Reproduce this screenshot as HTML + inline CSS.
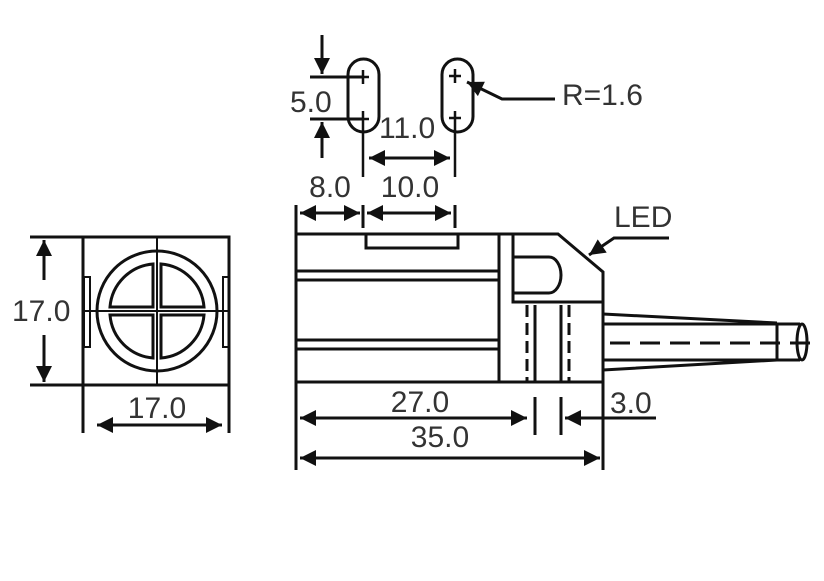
<!DOCTYPE html>
<html><head><style>body{margin:0;background:#fff}svg{display:block}text{font-family:"Liberation Sans",sans-serif;fill:#333;font-size:30px}</style></head>
<body>
<svg width="824" height="581" viewBox="0 0 824 581" xmlns="http://www.w3.org/2000/svg">
<defs>
<marker id="b" viewBox="0 0 10 10" refX="10" refY="5" markerWidth="18" markerHeight="16" orient="auto-start-reverse" markerUnits="userSpaceOnUse"><path d="M0,0L10,5L0,10z" fill="#111"/></marker></defs>
<g stroke="#111" stroke-width="3" fill="none">
<rect x="83" y="237" width="146" height="148"/>
<line x1="30" y1="237" x2="229" y2="237"/><line x1="30" y1="385" x2="229" y2="385"/>
<line x1="83" y1="385" x2="83" y2="433"/><line x1="229" y1="385" x2="229" y2="433"/>
<circle cx="157" cy="311" r="60"/>
<path d="M153,264 A47,47 0 0 0 110,307 L153,307Z M161,264 A47,47 0 0 1 204,307 L161,307Z M153,358 A47,47 0 0 1 110,315 L153,315Z M161,358 A47,47 0 0 0 204,315 L161,315Z"/>
<line x1="157" y1="237" x2="157" y2="385" stroke-width="2"/><line x1="83" y1="311" x2="229" y2="311" stroke-width="2"/>
<rect x="84" y="277" width="6" height="70" stroke-width="2"/><rect x="223" y="277" width="6" height="70" stroke-width="2"/>
<line x1="44" y1="240" x2="44" y2="280" marker-start="url(#b)"/><line x1="44" y1="335" x2="44" y2="382" marker-end="url(#b)"/>
<line x1="97" y1="425" x2="222" y2="425" marker-start="url(#b)" marker-end="url(#b)"/>
<rect x="348" y="59" width="31" height="73" rx="15.5"/><rect x="442" y="59" width="31" height="73" rx="15.5"/>
<path d="M363,70v14M357,77h12M363,111v66M357,119h12M455,69v14M449,76h12M455,111v66M449,118h12" stroke-width="2.5"/>
<line x1="310" y1="77" x2="363" y2="77"/><line x1="310" y1="119" x2="363" y2="119"/>
<line x1="322" y1="35" x2="322" y2="74" marker-end="url(#b)"/><line x1="322" y1="158" x2="322" y2="122" marker-end="url(#b)"/>
<line x1="369" y1="158" x2="450" y2="158" marker-start="url(#b)" marker-end="url(#b)"/>
<polyline points="555,99 502,99 467,82" marker-end="url(#b)"/>
<path d="M296,205V470M363,205v23M455,205v23M603,382V470"/>
<line x1="300" y1="213" x2="360" y2="213" marker-start="url(#b)" marker-end="url(#b)"/>
<line x1="367" y1="213" x2="451" y2="213" marker-start="url(#b)" marker-end="url(#b)"/>
<path d="M296,234H558L603,272V382H296Z"/>
<path d="M499,234V382M513,234V302H603M366,234v14h92v-14"/>
<path d="M296,271H499M296,280H499M296,340H499M296,349H499"/>
<path d="M513,257H549A12,18 0 0 1 549,293H513"/>
<path d="M527,305V382M569,305V382" stroke-dasharray="12,6"/>
<path d="M535,305V382M561,305V382M535,397V435M561,397V435"/>
<polyline points="669,238 614,238 589,255" marker-end="url(#b)"/>
<path d="M603,314L777,323M603,370L777,360M603,324H800M603,360H800M777,323V360"/>
<ellipse cx="802" cy="342" rx="5" ry="18"/>
<line x1="610" y1="343" x2="815" y2="343" stroke-dasharray="20,10"/>
<line x1="300" y1="418" x2="527" y2="418" marker-start="url(#b)" marker-end="url(#b)"/>
<line x1="656" y1="418" x2="565" y2="418" marker-end="url(#b)"/>
<line x1="300" y1="458" x2="600" y2="458" marker-start="url(#b)" marker-end="url(#b)"/>
</g>
<text x="12" y="321">17.0</text>
<text x="157" y="418" text-anchor="middle">17.0</text>
<text x="290" y="112">5.0</text>
<text x="379" y="138">11.0</text>
<text x="562" y="105">R=1.6</text>
<text x="330" y="197" text-anchor="middle">8.0</text>
<text x="410" y="197" text-anchor="middle">10.0</text>
<text x="614" y="227">LED</text>
<text x="420" y="412" text-anchor="middle">27.0</text>
<text x="610" y="413">3.0</text>
<text x="440" y="447" text-anchor="middle">35.0</text>
</svg>
</body></html>
